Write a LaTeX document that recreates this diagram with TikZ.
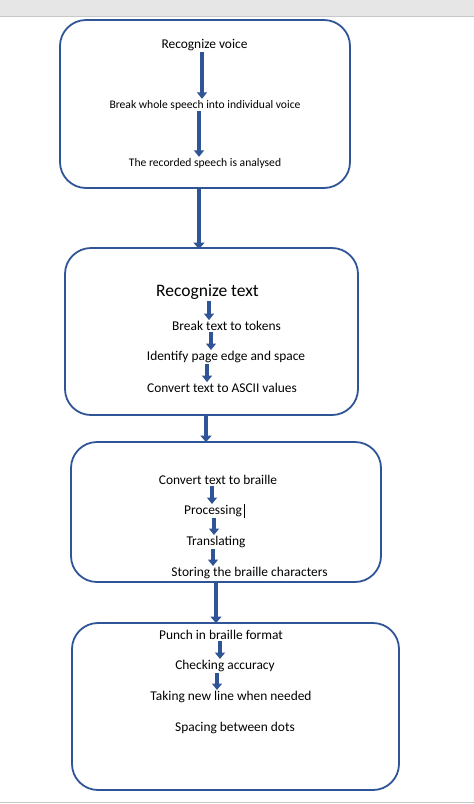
\documentclass[tikz,border=0pt]{standalone}
\usepackage{fontspec}
\setmainfont{Carlito}
\usetikzlibrary{arrows.meta,positioning}
\definecolor{wordblue}{RGB}{47,85,151}
\definecolor{bandgray}{RGB}{230,230,230}
\definecolor{edgegray}{RGB}{200,200,200}

\begin{document}
\begin{tikzpicture}[x=1pt,y=-1pt,
    stage/.style={rectangle, rounded corners=26pt, draw=wordblue, line width=1.8pt},
    item/.style={inner sep=1pt, font=\fontsize{13.4}{15}\selectfont},
    small/.style={inner sep=1pt, font=\fontsize{11.6}{13}\selectfont},
    flow/.style={wordblue, line width=3.8pt, -{Triangle[width=10pt,length=6.5pt]}},
    bigflow/.style={wordblue, line width=4.6pt, -{Triangle[width=11pt,length=6.5pt]}}]

% Page
\useasboundingbox (0,0) rectangle (474,804);
\fill[bandgray] (0,0) rectangle (474,16);
\draw[edgegray] (0,16) -- (474,16);
\draw[edgegray] (0,802.5) -- (474,802.5);

% Stages
\node[stage, minimum width=290pt, minimum height=168pt] (voicebox) at (205,104) {};
\node[stage, minimum width=293pt, minimum height=167pt] (textbox) at (211.5,331.5) {};
\node[stage, minimum width=310pt, minimum height=140pt] (braillebox) at (226,512) {};
\node[stage, minimum width=327pt, minimum height=167pt] (punchbox) at (235.5,706.5) {};

% Steps of stage 1
\node[item] (voice) at (204.5,45) {Recognize voice};
\node[small] (split) at (205,105) {Break whole speech into individual voice};
\node[small] (analyse) at (205,163) {The recorded speech is analysed};

% Steps of stage 2
\node[inner sep=1pt, font=\fontsize{17.5}{20}\selectfont] (rtext) at (207.5,292) {Recognize text};
\node[item] (tokens) at (226.5,326) {Break text to tokens};
\node[item] (edge) at (226,357) {Identify page edge and space};
\node[item] (ascii) at (222,388) {Convert text to ASCII values};

% Steps of stage 3
\node[item] (tobraille) at (218,480) {Convert text to braille};
\node[item] (process) at (213,511) {Processing};
\node[item] (translate) at (216,542) {Translating};
\node[item] (store) at (249.5,573) {Storing the braille characters};

% Steps of stage 4
\node[item] (punch) at (221,635) {Punch in braille format};
\node[item] (check) at (225,666) {Checking accuracy};
\node[item] (newline) at (231,697) {Taking new line when needed};
\node[item] (spacing) at (235,728) {Spacing between dots};

% Connections inside stages
\draw[flow] ([xshift=-2.5]voice.south) -- ([xshift=-3]split.north);
\draw[flow] ([xshift=-6]split.south) -- ([xshift=-6]analyse.north);
\draw[flow] ([xshift=1.5]rtext.south) -- ([xshift=-17.5]tokens.north);
\draw[flow] ([xshift=-15.5]tokens.south) -- ([xshift=-15]edge.north);
\draw[flow] ([xshift=-19]edge.south) -- ([xshift=-15]ascii.north);
\draw[flow] ([xshift=-6]tobraille.south) -- ([xshift=-1]process.north);
\draw[flow] ([xshift=1]process.south) -- ([xshift=-2]translate.north);
\draw[flow] ([xshift=-3]translate.south) -- ([xshift=-36.5]store.north);
\draw[flow] ([xshift=-1]punch.south) -- ([xshift=-5]check.north);
\draw[flow] ([xshift=-8]check.south) -- ([xshift=-14]newline.north);

% Connections between stages
\draw[bigflow] ([xshift=-6]voicebox.south) -- ([xshift=-12.5,yshift=-2]textbox.north);
\draw[bigflow] ([xshift=-5.5]textbox.south) -- ([xshift=-20,yshift=-1]braillebox.north);
\draw[bigflow] ([xshift=-10]braillebox.south) -- ([xshift=-19.5,yshift=-1]punchbox.north);

% Text cursor
\draw[thin] ([xshift=1]process.north east) -- ([xshift=1]process.south east);
\end{tikzpicture}
\end{document}
